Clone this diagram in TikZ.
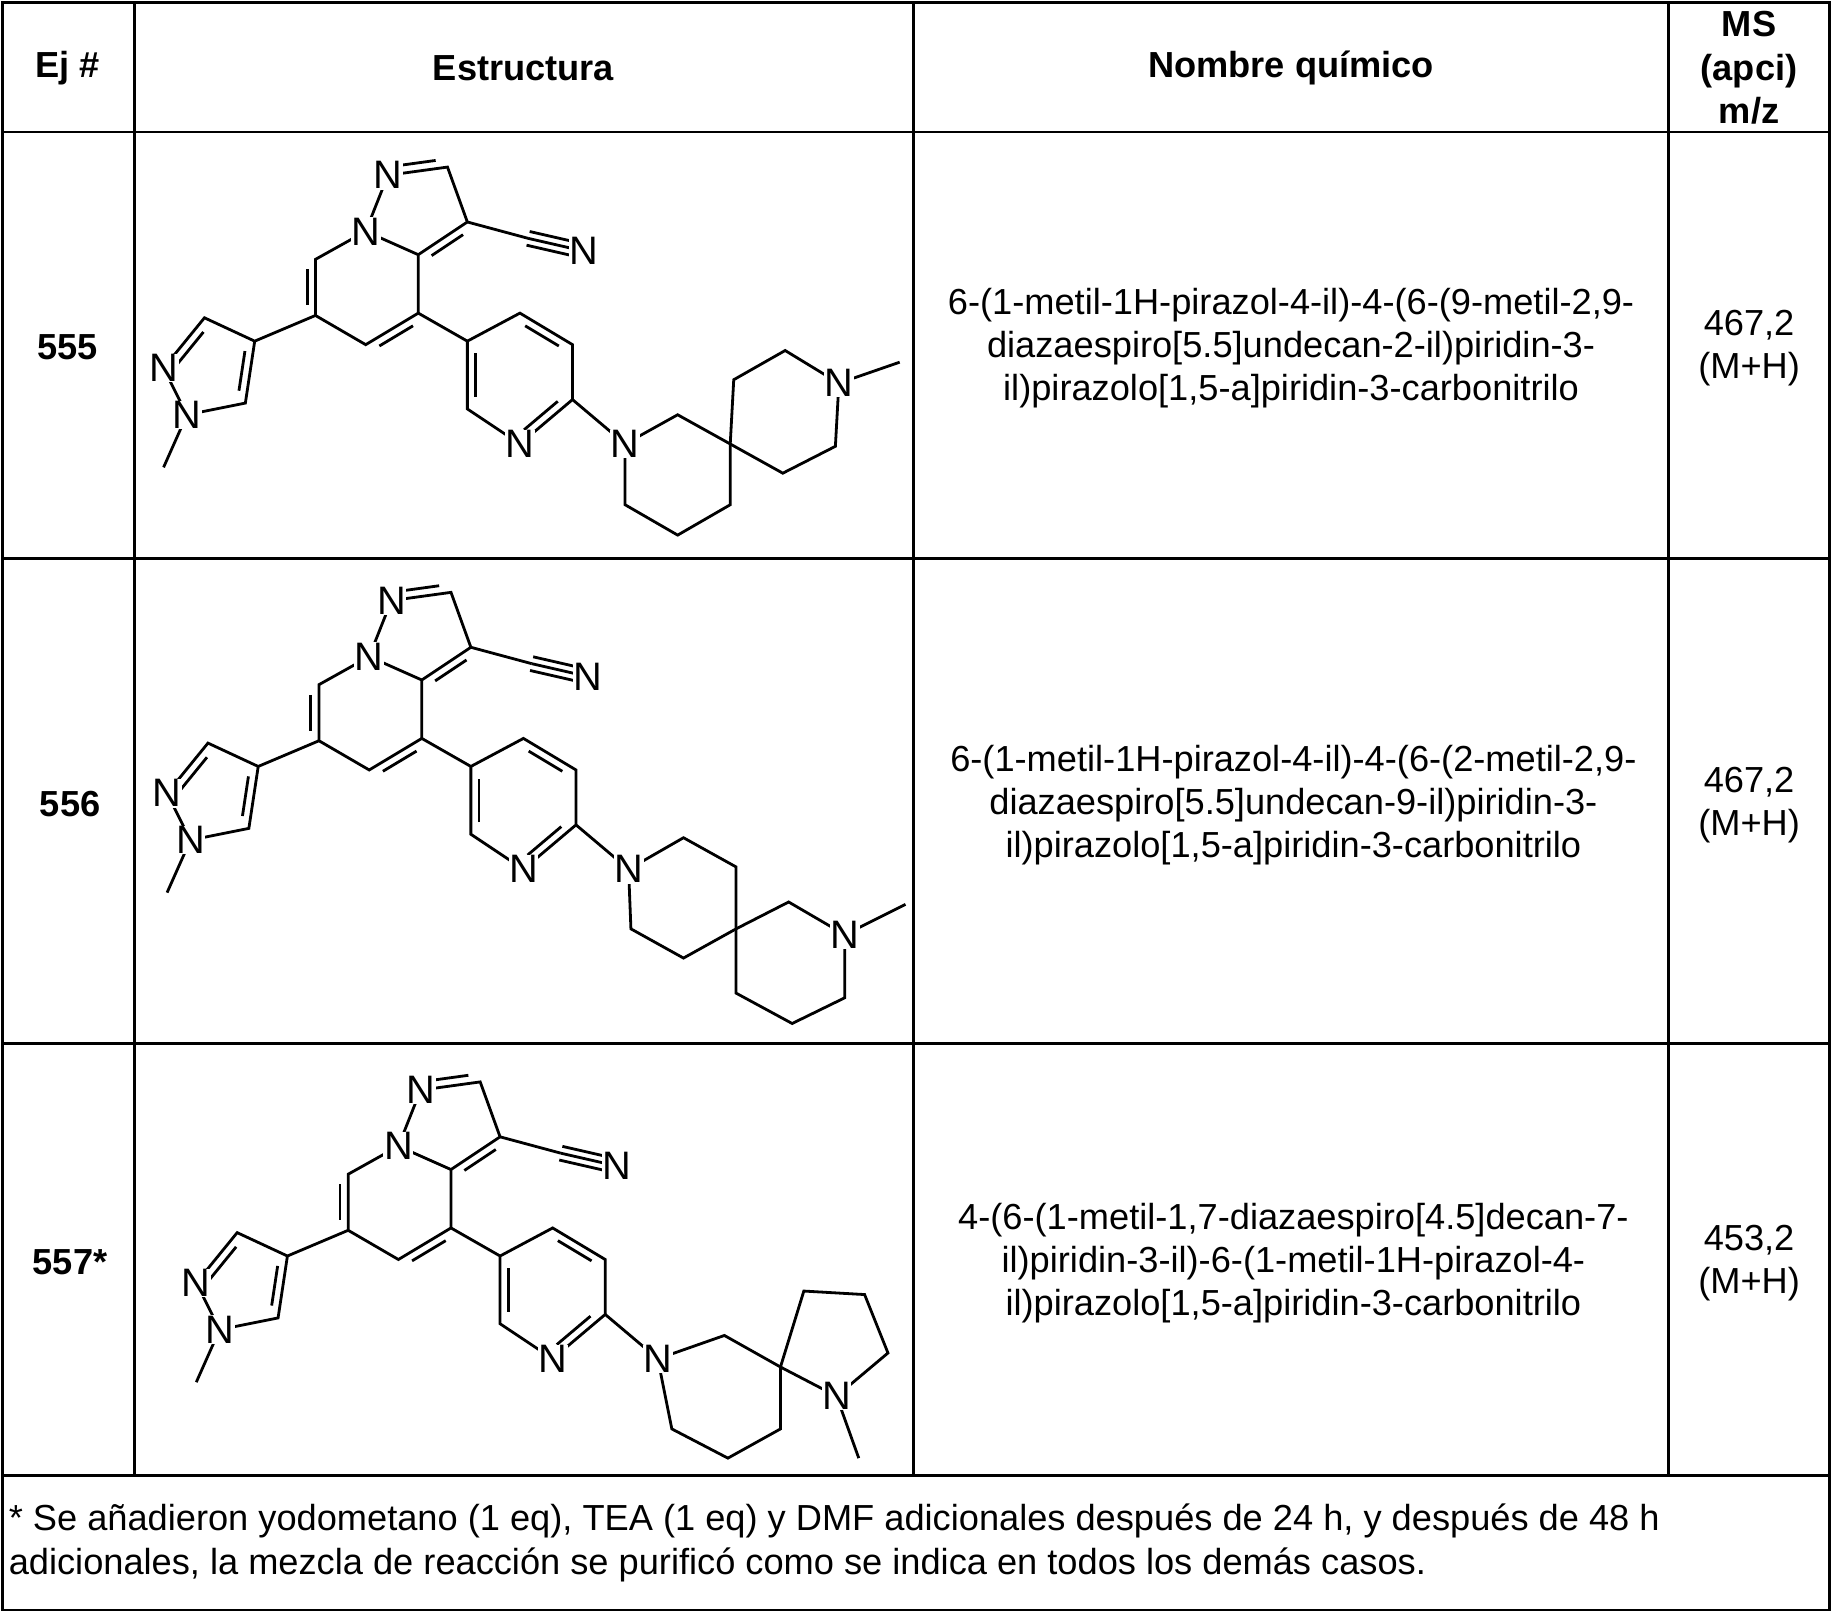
\documentclass[tikz,border=0pt]{standalone}
\usepackage{fontspec}
\setmainfont{Liberation Sans}
\usetikzlibrary{calc}
\tikzset{bd/.style={line width=2.4pt},atm/.style={fill=white,inner sep=0.5pt,font=\fontsize{34}{34}\selectfont},
 grid/.style={line width=2.2pt},txt/.style={font=\fontsize{31}{37}\selectfont,align=center},
 hd/.style={font=\bfseries\fontsize{31}{37}\selectfont,align=center}}
\newcommand\inr[3]{\draw[bd] ($(#1)!0.18!(#2)!#3!90:(#2)$) -- ($(#2)!0.18!(#1)!#3!-90:(#1)$);}
\newcommand\core{%
 \coordinate (N1) at (313,198); \coordinate (N2) at (332,150); \coordinate (C2) at (383,143);
 \coordinate (C3) at (400,190); \coordinate (C3a) at (358,218); \coordinate (C4) at (358,268);
 \coordinate (C5) at (313,295); \coordinate (C6) at (270,270); \coordinate (C7) at (270,222);
 \coordinate (CC) at (452,204); \coordinate (NN) at (500,215);
 \coordinate (Q4) at (218,292); \coordinate (Q3) at (175,272); \coordinate (QN2) at (140,315);
 \coordinate (QN1) at (160,355); \coordinate (Q5) at (210,345); \coordinate (Me) at (140,400);
 \coordinate (P3) at (400,292); \coordinate (P4) at (445,268); \coordinate (P5) at (490,295);
 \coordinate (P6) at (490,342); \coordinate (PN) at (445,380); \coordinate (P2) at (400,350);
 \coordinate (AN) at (535,380);
 \draw[bd] (N1)--(N2)--(C2)--(C3)--(C3a)--(N1)--(C7)--(C6)--(C5)--(C4)--(C3a);
 \inr{N2}{C2}{7pt} \inr{C3}{C3a}{7pt} \inr{C7}{C6}{-7pt} \inr{C5}{C4}{-7pt}
 \draw[bd] (C3)--(CC); \draw[bd] ($(CC)!6pt!90:(NN)$)--($(NN)!6pt!-90:(CC)$); \draw[bd] (CC)--(NN); \draw[bd] ($(CC)!6pt!-90:(NN)$)--($(NN)!6pt!90:(CC)$);
 \draw[bd] (C6)--(Q4)--(Q3)--(QN2)--(QN1)--(Q5)--(Q4); \draw[bd] (QN1)--(Me);
 \inr{Q3}{QN2}{7pt} \inr{Q5}{Q4}{7pt}
 \draw[bd] (C4)--(P3)--(P4)--(P5)--(P6)--(PN)--(P2)--(P3); \draw[bd] (P6)--(AN);
 \inr{P4}{P5}{-7pt} \inr{P6}{PN}{-7pt} \inr{P2}{P3}{-7pt}
}
\newcommand\corelabels{%
 \node[atm] at (N1) {N}; \node[atm] at (N2) {N}; \node[atm] at (NN) {N};
 \node[atm] at (QN1) {N}; \node[atm] at (QN2) {N}; \node[atm] at (PN) {N}; \node[atm] at (AN) {N};
}
\begin{document}
\begin{tikzpicture}[x=1pt,y=-1pt]
\useasboundingbox (0,0) rectangle (1568,1380);
\draw[grid] (2,2) rectangle (1566,1378);
\draw[grid] (2,113)--(1566,113) (2,478)--(1566,478) (2,893)--(1566,893) (2,1263)--(1566,1263);
\foreach \x in {115,782,1428} \draw[grid] (\x,2)--(\x,1263);
\node[hd] (h1) at (58,58) {Ej \#};
\node[hd] (h2) at (448,58) {Estructura};
\node[hd] (h3) at (1105,58) {Nombre químico};
\node[hd] (h4) at (1497,58) {MS\\(apci)\\m/z};
\node[hd] (e1) at (58,297) {555};
\node[hd] (e2) at (60,688) {556};
\node[hd] (e3) at (60,1080) {557*};
\node[txt] (n1) at (1105,298) {6-(1-metil-1H-pirazol-4-il)-4-(6-(9-metil-2,9-\\diazaespiro[5.5]undecan-2-il)piridin-3-\\il)pirazolo[1,5-a]piridin-3-carbonitrilo};
\node[txt] (n2) at (1107,689) {6-(1-metil-1H-pirazol-4-il)-4-(6-(2-metil-2,9-\\diazaespiro[5.5]undecan-9-il)piridin-3-\\il)pirazolo[1,5-a]piridin-3-carbonitrilo};
\node[txt] (n3) at (1107,1081) {4-(6-(1-metil-1,7-diazaespiro[4.5]decan-7-\\il)piridin-3-il)-6-(1-metil-1H-pirazol-4-\\il)pirazolo[1,5-a]piridin-3-carbonitrilo};
\node[txt] (m1) at (1497,298) {467,2\\(M+H)};
\node[txt] (m2) at (1497,689) {467,2\\(M+H)};
\node[txt] (m3) at (1497,1081) {453,2\\(M+H)};
\node[txt,align=left,anchor=north west] (foot) at (4,1284) {* Se añadieron yodometano (1 eq), TEA (1 eq) y DMF adicionales después de 24 h, y después de 48 h\\adicionales, la mezcla de reacción se purificó como se indica en todos los demás casos.};
% 555
\begin{scope}
\core
\coordinate (S1) at (580,355); \coordinate (SP) at (625,380); \coordinate (S3) at (625,432);
\coordinate (S4) at (580,458); \coordinate (S5) at (535,432);
\coordinate (T1) at (628,325); \coordinate (T2) at (672,300); \coordinate (TN) at (718,328);
\coordinate (T4) at (715,382); \coordinate (T5) at (670,405); \coordinate (TM) at (770,310);
\draw[bd] (AN)--(S1)--(SP)--(S3)--(S4)--(S5)--(AN);
\draw[bd] (SP)--(T1)--(T2)--(TN)--(T4)--(T5)--(SP); \draw[bd] (TN)--(TM);
\corelabels \node[atm] at (TN) {N};
\end{scope}
% 556
\begin{scope}[shift={(3,364)}]
\core
\coordinate (S1) at (582,353); \coordinate (S2) at (627,378); \coordinate (SP) at (627,431);
\coordinate (S4) at (582,456); \coordinate (S5) at (537,431);
\coordinate (T1) at (672,408); \coordinate (TN) at (720,436); \coordinate (T3) at (720,490);
\coordinate (T4) at (675,512); \coordinate (T5) at (627,486); \coordinate (TM) at (772,410);
\draw[bd] (AN)--(S1)--(S2)--(SP)--(S4)--(S5)--(AN);
\draw[bd] (SP)--(T1)--(TN)--(T3)--(T4)--(T5)--(SP); \draw[bd] (TN)--(TM);
\corelabels \node[atm] at (TN) {N};
\end{scope}
% 557
\begin{scope}[shift={(28,783)}]
\core
\coordinate (S1) at (592,360); \coordinate (SP) at (640,387); \coordinate (S3) at (640,440);
\coordinate (S4) at (595,465); \coordinate (S5) at (547,440);
\coordinate (R1) at (660,322); \coordinate (R2) at (712,325); \coordinate (R3) at (732,375);
\coordinate (RN) at (688,412); \coordinate (RM) at (707,465);
\draw[bd] (AN)--(S1)--(SP)--(S3)--(S4)--(S5)--(AN);
\draw[bd] (SP)--(R1)--(R2)--(R3)--(RN)--(SP); \draw[bd] (RN)--(RM);
\corelabels \node[atm] at (RN) {N};
\end{scope}
\end{tikzpicture}
\end{document}
